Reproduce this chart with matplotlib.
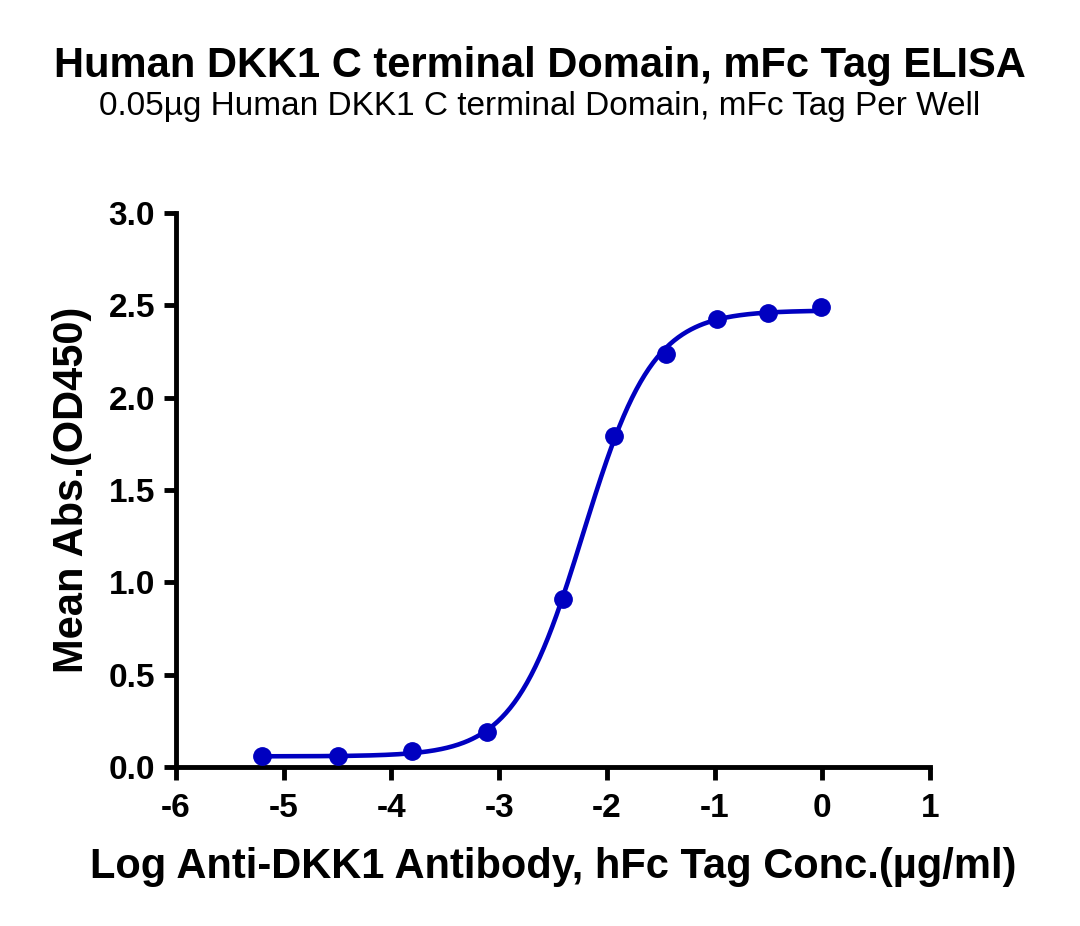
import numpy as np
import matplotlib
matplotlib.use("Agg")
import matplotlib.pyplot as plt

plt.rcParams['font.family'] = ['Liberation Sans', 'DejaVu Sans']

log_conc = [-5.20, -4.50, -3.81, -3.11, -2.41, -1.93, -1.45, -0.98, -0.50, -0.01]
mean_abs = [0.060, 0.060, 0.085, 0.190, 0.910, 1.795, 2.235, 2.425, 2.460, 2.490]

title = "Human DKK1 C terminal Domain, mFc Tag ELISA"
subtitle = "0.05\u00b5g Human DKK1 C terminal Domain, mFc Tag Per Well"
xlabel = "Log Anti-DKK1 Antibody, hFc Tag Conc.(\u00b5g/ml)"
ylabel = "Mean Abs.(OD450)"
xticks = [-6, -5, -4, -3, -2, -1, 0, 1]
yticks = [0.0, 0.5, 1.0, 1.5, 2.0, 2.5, 3.0]
color = "#0000C0"

# 4PL fit: grid over logEC50 and hill, linear LS for bottom/top
x = np.array(log_conc); y = np.array(mean_abs)
best = None
for ec in np.linspace(-3.0, -1.5, 301):
    for h in np.linspace(0.5, 3.0, 251):
        s = 1.0 / (1.0 + 10 ** ((ec - x) * h))
        A = np.column_stack([1 - s, s])
        coef, *_ = np.linalg.lstsq(A, y, rcond=None)
        r = np.sum((A @ coef - y) ** 2)
        if best is None or r < best[0]:
            best = (r, ec, h, coef)
_, ec, h, (bot, top) = best
xf = np.linspace(min(log_conc), max(log_conc), 400)
yf = bot + (top - bot) / (1.0 + 10 ** ((ec - xf) * h))

fig = plt.figure(figsize=(10.8, 9.26), dpi=100)
ax = fig.add_axes([176/1080, 1 - 767/926, (930-176)/1080, (767-213)/926])
ax.plot(xf, yf, color=color, lw=3.3, zorder=2)
ax.plot(log_conc, mean_abs, 'o', color=color, ms=12.5, zorder=3, clip_on=False)

ax.set_xlim(-6, 1)
ax.set_ylim(0, 3.0)
ax.set_xticks(xticks)
ax.set_xticklabels([str(t) for t in xticks])
ax.set_yticks(yticks)
ax.set_yticklabels([f"{t:.1f}" for t in yticks])
for s in ['top', 'right']:
    ax.spines[s].set_visible(False)
for s in ['left', 'bottom']:
    ax.spines[s].set_linewidth(3.5)
ax.tick_params(axis='both', width=3.5, length=9, labelsize=24)
ax.tick_params(axis='x', pad=10)
ax.tick_params(axis='y', pad=6)
for lab in ax.get_xticklabels() + ax.get_yticklabels():
    lab.set_fontweight('bold')
ax.set_xlabel(xlabel, fontsize=30, fontweight='bold', labelpad=16)
ax.set_ylabel(ylabel, fontsize=30, fontweight='bold', labelpad=12)

fig.text(0.5, 1 - 66/926, title, ha='center', va='center', fontsize=30, fontweight='bold')
fig.text(0.5, 1 - 107/926, subtitle, ha='center', va='center', fontsize=24)

fig.savefig("out.png", dpi=100)
